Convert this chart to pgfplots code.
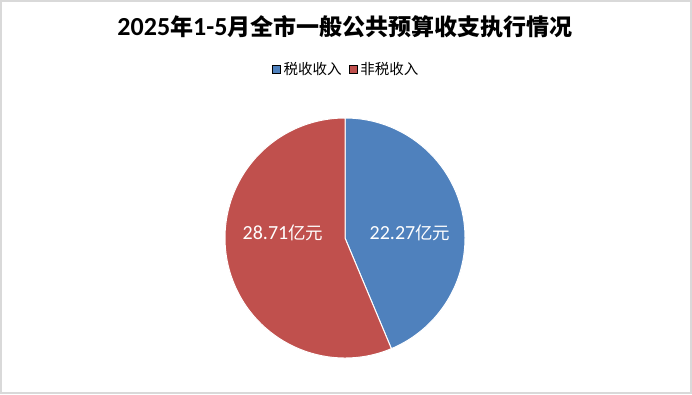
\documentclass[border=0pt]{standalone}
\usepackage{pgfplots}
\usepackage{pgfplotstable}
\pgfplotsset{compat=1.18}
\usepackage{fontspec}
\setmainfont{Noto Sans CJK SC}
\newfontfamily\carlito{Carlito}
\definecolor{blueC}{HTML}{4F81BD}
\definecolor{redC}{HTML}{C0504D}
\pgfplotstableread{
label value
tax 22.27
nontax 28.71
}\piedata
\begin{document}
\begin{tikzpicture}
\pgfplotstablegetelem{0}{value}\of\piedata \let\va\pgfplotsretval
\pgfplotstablegetelem{1}{value}\of\piedata \let\vb\pgfplotsretval
\pgfmathsetmacro{\total}{\va+\vb}
\pgfmathsetmacro{\angA}{360*\va/\total}
\pgfmathsetmacro{\endA}{90-\angA}
\begin{axis}[
  x=1pt, y=1pt,
  xmin=0, xmax=692, ymin=0, ymax=394,
  hide axis, clip=false,
  legend columns=2,
  legend style={draw=none, fill=none, at={(0.5,0.825)}, anchor=center,
    font=\fontsize{14.5}{17}\selectfont,
    /tikz/every even column/.append style={column sep=5pt}},
  legend image code/.code={\fill[#1] (0pt,-4pt) rectangle (8pt,4pt);},
]
\draw[black!15, line width=1.3pt] (axis cs:1,1) rectangle (axis cs:691,393);
\fill[blueC, draw=white, line width=1pt] (axis cs:345,156) -- ++(90:120pt) arc[start angle=90, end angle=\endA, radius=120pt] -- cycle;
\fill[redC, draw=white, line width=1pt] (axis cs:345,156) -- ++(\endA:120pt) arc[start angle=\endA, end angle=-270, radius=120pt] -- cycle;
\node[white, font=\fontsize{17.5}{20}\selectfont] at (axis cs:410,161) {{\carlito\fontsize{20}{20}\selectfont \va}亿元};
\node[white, font=\fontsize{17.5}{20}\selectfont] at (axis cs:283,161) {{\carlito\fontsize{20}{20}\selectfont \vb}亿元};
\node[black, font=\fontsize{23}{26}\selectfont\bfseries] at (axis cs:345,367) {{\carlito\bfseries\fontsize{26}{26}\selectfont 2025}年{\carlito\bfseries\fontsize{26}{26}\selectfont 1-5}月全市一般公共预算收支执行情况};
\addlegendimage{fill=blueC}
\addlegendentry{\hspace{1.5pt}税收收入}
\addlegendimage{fill=redC}
\addlegendentry{\hspace{1.5pt}非税收入}
\end{axis}
\useasboundingbox (0,0) rectangle (692pt,394pt);
\end{tikzpicture}
\end{document}
